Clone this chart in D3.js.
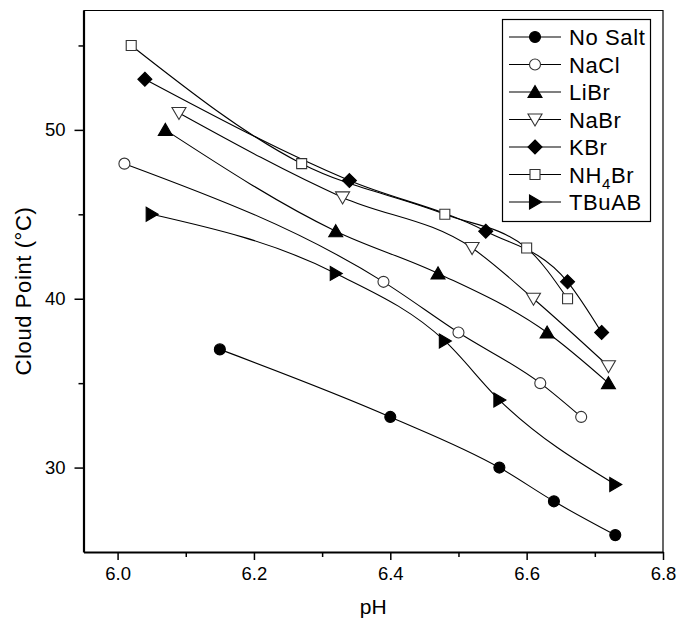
<!DOCTYPE html>
<html>
<head>
<meta charset="utf-8">
<script src="https://cdn.jsdelivr.net/npm/d3@7"></script>
<style>
  body { margin: 0; background: #fff; }
  svg { font-family: "Liberation Sans", Arial, sans-serif; }
</style>
</head>
<body>
<svg id="chart" width="678" height="621"></svg>
<script>
// data (pH, cloud point in °C)
const seriesNames = ['No Salt', 'NaCl', 'LiBr', 'NaBr', 'KBr', 'NH4Br', 'TBuAB'];

const phNoSalt = [6.15, 6.40, 6.56, 6.64, 6.73];
const cpNoSalt = [37, 33, 30, 28, 26];

const phNaCl = [6.01, 6.39, 6.50, 6.62, 6.68];
const cpNaCl = [48, 41, 38, 35, 33];

const phLiBr = [6.07, 6.32, 6.47, 6.63, 6.72];
const cpLiBr = [50, 44, 41.5, 38, 35];

const phNaBr = [6.09, 6.33, 6.52, 6.61, 6.72];
const cpNaBr = [51, 46, 43, 40, 36];

const phKBr = [6.04, 6.34, 6.54, 6.66, 6.71];
const cpKBr = [53, 47, 44, 41, 38];

const phNH4Br = [6.02, 6.27, 6.48, 6.60, 6.66];
const cpNH4Br = [55, 48, 45, 43, 40];

const phTBuAB = [6.05, 6.32, 6.48, 6.56, 6.73];
const cpTBuAB = [45, 41.5, 37.5, 34, 29];

const xTicks = [6.0, 6.2, 6.4, 6.6, 6.8];
const xMinor = [6.1, 6.3, 6.5, 6.7];
const yTicks = [30, 40, 50];
const yMinor = [35, 45, 55];

const zip = (xs, ys) => xs.map((x, i) => ({ x, y: ys[i] }));
const series = [
  { name: seriesNames[0], pts: zip(phNoSalt, cpNoSalt), shape: 'circle', fill: '#000' },
  { name: seriesNames[1], pts: zip(phNaCl, cpNaCl), shape: 'circle', fill: '#fff' },
  { name: seriesNames[2], pts: zip(phLiBr, cpLiBr), shape: 'triUp', fill: '#000' },
  { name: seriesNames[3], pts: zip(phNaBr, cpNaBr), shape: 'triDown', fill: '#fff' },
  { name: seriesNames[4], pts: zip(phKBr, cpKBr), shape: 'diamond', fill: '#000' },
  { name: seriesNames[5], pts: zip(phNH4Br, cpNH4Br), shape: 'square', fill: '#fff' },
  { name: seriesNames[6], pts: zip(phTBuAB, cpTBuAB), shape: 'triRight', fill: '#000' }
];

const W = 678, H = 621;
const margin = { top: 10, right: 15, bottom: 69, left: 83.5 };
const FONT = '"Liberation Sans", Arial, sans-serif';

const svg = d3.select('#chart');

const x = d3.scaleLinear().domain([5.95, 6.8]).range([margin.left, W - margin.right]);
const y = d3.scaleLinear().domain([25, 57.1]).range([H - margin.bottom, margin.top]);

// marker paths, centred at 0,0
function markerPath(shape) {
  switch (shape) {
    case 'circle': return d3.symbol(d3.symbolCircle, 95)();
    case 'square': return 'M-5,-5H5V5H-5Z';
    case 'diamond': return 'M0,-7L7,0L0,7L-7,0Z';
    case 'triUp': return 'M0,-6.5L7,5.5H-7Z';
    case 'triDown': return 'M0,6.5L7,-5.5H-7Z';
    case 'triRight': return 'M6.5,0L-5.5,7V-7Z';
  }
}

// frame: thin top and right lines
svg.append('line')
  .attr('x1', margin.left).attr('x2', W - margin.right)
  .attr('y1', margin.top + 0.5).attr('y2', margin.top + 0.5)
  .attr('stroke', '#000').attr('stroke-width', 1.2);
svg.append('line')
  .attr('x1', W - margin.right).attr('x2', W - margin.right)
  .attr('y1', margin.top).attr('y2', H - margin.bottom)
  .attr('stroke', '#000').attr('stroke-width', 1.2);

// x axis
const xAxis = svg.append('g')
  .attr('transform', `translate(0,${H - margin.bottom})`)
  .call(d3.axisBottom(x).tickValues(xTicks).tickFormat(d3.format('.1f')).tickSize(8).tickSizeOuter(0).tickPadding(7));
xAxis.select('.domain').attr('stroke-width', 2.2);
xAxis.selectAll('.tick line').attr('stroke-width', 1.5);
xAxis.selectAll('text').attr('font-size', 18.5).attr('font-family', FONT).attr('fill', '#000');
svg.append('g')
  .attr('transform', `translate(0,${H - margin.bottom})`)
  .call(d3.axisBottom(x).tickValues(xMinor).tickFormat('').tickSize(5).tickSizeOuter(0))
  .call(g => g.select('.domain').remove())
  .selectAll('.tick line').attr('stroke-width', 1.5);

// y axis
const yAxis = svg.append('g')
  .attr('transform', `translate(${margin.left},0)`)
  .call(d3.axisLeft(y).tickValues(yTicks).tickSize(9).tickSizeOuter(0).tickPadding(9));
yAxis.select('.domain').attr('stroke-width', 2.2);
yAxis.selectAll('.tick line').attr('stroke-width', 1.5);
yAxis.selectAll('text').attr('font-size', 18.5).attr('font-family', FONT).attr('fill', '#000');
svg.append('g')
  .attr('transform', `translate(${margin.left},0)`)
  .call(d3.axisLeft(y).tickValues(yMinor).tickFormat('').tickSize(5).tickSizeOuter(0))
  .call(g => g.select('.domain').remove())
  .selectAll('.tick line').attr('stroke-width', 1.5);

// axis titles
svg.append('text')
  .attr('x', (margin.left + W - margin.right) / 2)
  .attr('y', 614)
  .attr('text-anchor', 'middle')
  .attr('font-size', 21)
  .text('pH');

svg.append('text')
  .attr('transform', `translate(31,${(margin.top + H - margin.bottom) / 2 + 10}) rotate(-90)`)
  .attr('text-anchor', 'middle')
  .attr('font-size', 22)
  .attr('letter-spacing', 0.6)
  .text('Cloud Point (°C)');

// smooth curves through the points
const line = d3.line()
  .x(d => x(d.x))
  .y(d => y(d.y))
  .curve(d3.curveMonotoneX);

const plot = svg.append('g');
series.forEach(s => {
  plot.append('path')
    .datum(s.pts)
    .attr('d', line)
    .attr('fill', 'none')
    .attr('stroke', '#000')
    .attr('stroke-width', 1.1);
});
series.forEach(s => {
  plot.append('g').selectAll('path')
    .data(s.pts)
    .join('path')
    .attr('transform', d => `translate(${x(d.x)},${y(d.y)})`)
    .attr('d', markerPath(s.shape))
    .attr('fill', s.fill)
    .attr('stroke', s.fill === '#fff' ? '#333' : '#000')
    .attr('stroke-width', 1.1);
});

// legend
const lg = svg.append('g');
lg.append('rect')
  .attr('x', 502.5).attr('y', 19.5)
  .attr('width', 148).attr('height', 202)
  .attr('fill', '#fff').attr('stroke', '#000').attr('stroke-width', 1.2);

series.forEach((s, i) => {
  const ly = 37 + i * 27.5;
  lg.append('line')
    .attr('x1', 509).attr('x2', 561)
    .attr('y1', ly).attr('y2', ly)
    .attr('stroke', '#000').attr('stroke-width', 1.1);
  lg.append('path')
    .attr('transform', `translate(535,${ly})`)
    .attr('d', markerPath(s.shape))
    .attr('fill', s.fill)
    .attr('stroke', s.fill === '#fff' ? '#333' : '#000')
    .attr('stroke-width', 1.1);
  const t = lg.append('text')
    .attr('x', 569).attr('y', ly + 8)
    .attr('font-size', 22)
    .attr('letter-spacing', 0.6);
  if (s.name === 'NH4Br') {
    t.append('tspan').text('NH');
    t.append('tspan').attr('font-size', 15).attr('dy', 6).text('4');
    t.append('tspan').attr('dy', -6).text('Br');
  } else {
    t.text(s.name);
  }
});
</script>
</body>
</html>
